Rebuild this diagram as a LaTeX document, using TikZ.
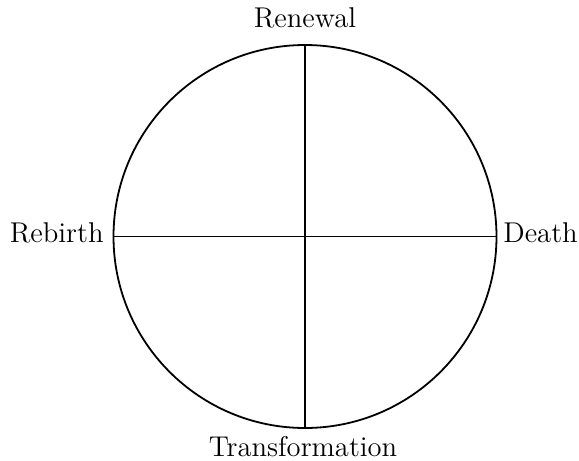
\documentclass[tikz,border=0pt]{standalone}
\begin{document}
\begin{tikzpicture}[x=0.5pt,y=-0.5pt,
  lbl/.style={inner sep=0pt,font=\fontsize{14.3}{17}\selectfont},
  ln/.style={line width=0.9pt}]
\useasboundingbox (0,0) rectangle (579,461);
\node[ln,draw,circle,minimum size=191.5pt,inner sep=0pt] (c) at (305,236.5) {};
\draw[ln] (c.north) -- (c.south);
\draw[ln] (c.west) -- (c.east);
\node[lbl,anchor=base] (ren) at (305,27) {Renewal};
\node[lbl,anchor=base east] (reb) at (104,242) {Rebirth};
\node[lbl,anchor=base west] (dea) at (503,242) {Death};
\node[lbl,anchor=base] (tra) at (303,456) {Transformation};
\end{tikzpicture}
\end{document}
